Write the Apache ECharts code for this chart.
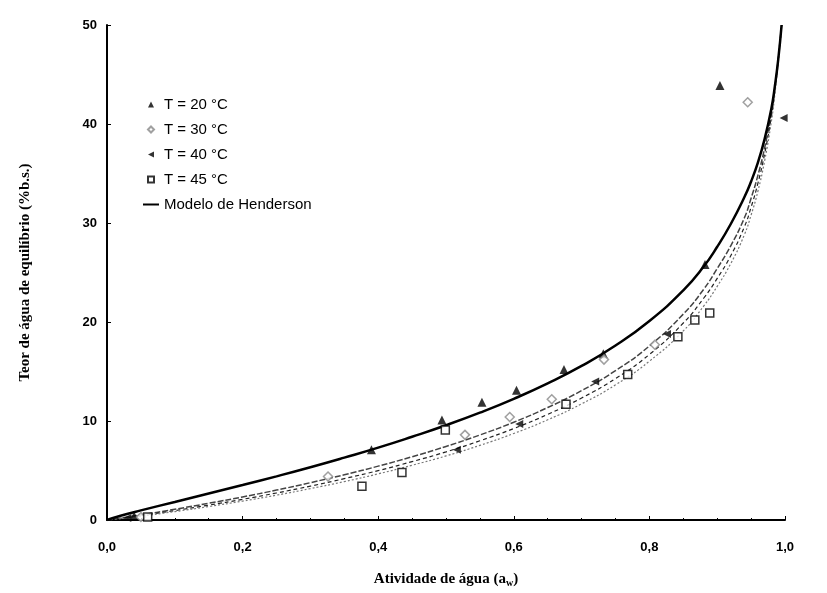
<!DOCTYPE html>
<html>
<head>
<meta charset="utf-8">
<script src="https://cdn.jsdelivr.net/npm/echarts@6/dist/echarts.min.js"></script>
<style>html,body{margin:0;padding:0;background:#fff}#c{width:827px;height:593px}</style>
</head>
<body>
<div id="c"></div>
<script>
// Observed points: water activity (aw) and equilibrium moisture (% d.b.)
var aw20 = [0.04, 0.39, 0.494, 0.553, 0.604, 0.674, 0.732, 0.882, 0.904];
var x20  = [0.4, 7.1, 10.1, 11.9, 13.1, 15.2, 16.8, 25.8, 43.9];
var aw30 = [0.05, 0.326, 0.528, 0.594, 0.656, 0.733, 0.808, 0.945];
var x30  = [0.3, 4.4, 8.6, 10.4, 12.2, 16.2, 17.7, 42.2];
var aw40 = [0.03, 0.516, 0.608, 0.72, 0.826, 0.998];
var x40  = [0.2, 7.1, 9.7, 14.0, 18.8, 40.6];
var aw45 = [0.06, 0.376, 0.435, 0.499, 0.677, 0.768, 0.842, 0.867, 0.889];
var x45  = [0.3, 3.4, 4.8, 9.1, 11.7, 14.7, 18.5, 20.2, 20.9];

// Henderson model curves read along the aw axis
var awCurve = [0, 0.02, 0.05, 0.1, 0.15, 0.2, 0.25, 0.3, 0.35, 0.4, 0.45, 0.5, 0.55, 0.6, 0.65, 0.7, 0.75, 0.8, 0.85, 0.88, 0.9, 0.92, 0.94, 0.95, 0.96, 0.97, 0.98, 0.985, 0.99, 0.995];
var m20 = [0, 0.43, 0.97, 1.82, 2.67, 3.53, 4.41, 5.33, 6.30, 7.31, 8.41, 9.57, 10.84, 12.24, 13.80, 15.56, 17.62, 20.1, 23.2, 25.6, 27.6, 29.9, 32.6, 34.2, 36.1, 38.5, 41.6, 43.8, 46.5, 50.0];
var m30 = [0, 0.20, 0.52, 1.08, 1.69, 2.33, 3.02, 3.77, 4.57, 5.44, 6.39, 7.43, 8.59, 9.88, 11.36, 13.07, 15.09, 17.58, 20.8, 23.3, 25.4, 27.7, 30.5, 32.5, 34.8, 37.6, 41.2, 43.6, 46.6, 50.0];
var m40 = [0, 0.17, 0.44, 0.95, 1.50, 2.09, 2.73, 3.42, 4.18, 4.99, 5.90, 6.88, 8.00, 9.24, 10.67, 12.32, 14.29, 16.72, 19.9, 22.4, 24.4, 26.7, 29.6, 31.6, 34.0, 37.0, 40.8, 43.3, 46.4, 50.0];
var m45 = [0, 0.14, 0.39, 0.85, 1.36, 1.91, 2.51, 3.17, 3.88, 4.66, 5.53, 6.47, 7.54, 8.74, 10.12, 11.73, 13.65, 16.04, 19.1, 21.6, 23.6, 25.9, 28.8, 30.8, 33.2, 36.3, 40.3, 43.0, 46.2, 49.8];

var xTicks = [0, 0.2, 0.4, 0.6, 0.8, 1.0];
var yTicks = [0, 10, 20, 30, 40, 50];

function pairs(a, b) { return a.map(function (v, i) { return [v, b[i]]; }); }

var chart = echarts.init(document.getElementById('c'), null, {renderer: 'canvas'});
var font = 'Liberation Sans';
chart.setOption({
  animation: false,
  backgroundColor: '#fff',
  grid: {left: 107, right: 42, top: 25, bottom: 73},
  legend: {
    left: 138, top: 92, orient: 'vertical', itemGap: 10, itemWidth: 16, itemHeight: 6,
    symbolKeepAspect: true,
    textStyle: {fontFamily: font, fontSize: 15, color: '#000'},
    data: [
      {name: 'T = 20 °C', icon: 'path://M3,0 L6,6 L0,6 Z'},
      {name: 'T = 30 °C', icon: 'path://M3,0 L6,3 L3,6 L0,3 Z'},
      {name: 'T = 40 °C', icon: 'path://M0,3 L6,0 L6,6 Z'},
      {name: 'T = 45 °C', icon: 'path://M0,0 L6,0 L6,6 L0,6 Z'},
      {name: 'Modelo de Henderson', icon: 'path://M0,0 L32,0 L32,4 L0,4 Z'}
    ]
  },
  xAxis: {
    type: 'value', min: xTicks[0], max: xTicks[xTicks.length - 1], interval: 0.2,
    name: '{t|Atividade de água (a}{s|w}{t|)}', nameLocation: 'middle', nameGap: 50,
    nameTextStyle: {rich: {
      t: {fontFamily: 'Liberation Serif', fontWeight: 'bold', fontSize: 15, color: '#000'},
      s: {fontFamily: 'Liberation Serif', fontWeight: 'bold', fontSize: 10, color: '#000', verticalAlign: 'bottom', padding: [8, 0, 0, 0]}
    }},
    axisLine: {lineStyle: {color: '#000', width: 2}},
    axisTick: {inside: true, length: 4, lineStyle: {color: '#000'}},
    minorTick: {show: true, splitNumber: 4, length: 2, lineStyle: {color: '#000'}},
    splitLine: {show: false},
    axisLabel: {margin: 21, fontFamily: font, fontWeight: 'bold', fontSize: 13, color: '#000',
      formatter: function (v) { return v.toFixed(1).replace('.', ','); }}
  },
  yAxis: {
    type: 'value', min: yTicks[0], max: yTicks[yTicks.length - 1], interval: 10,
    name: 'Teor de água de equilíbrio (%b.s.)', nameLocation: 'middle', nameGap: 74,
    nameTextStyle: {fontFamily: 'Liberation Serif', fontWeight: 'bold', fontSize: 15, color: '#000'},
    axisLine: {lineStyle: {color: '#000', width: 2}},
    axisTick: {inside: true, length: 4, lineStyle: {color: '#000'}},
    splitLine: {show: false},
    axisLabel: {margin: 10, fontFamily: font, fontWeight: 'bold', fontSize: 13, color: '#000'}
  },
  series: [
    {type: 'line', name: 'm30', data: pairs(awCurve, m30), showSymbol: false, symbol: 'none', smooth: true,
      lineStyle: {color: '#444', width: 1.5, type: [6, 2]}, z: 2},
    {type: 'line', name: 'm40', data: pairs(awCurve, m40), showSymbol: false, symbol: 'none', smooth: true,
      lineStyle: {color: '#222', width: 1.2, type: [4, 3]}, z: 2},
    {type: 'line', name: 'm45', data: pairs(awCurve, m45), showSymbol: false, symbol: 'none', smooth: true,
      lineStyle: {color: '#777', width: 1.2, type: [2, 2]}, z: 2},
    {type: 'line', name: 'Modelo de Henderson', data: pairs(awCurve, m20), showSymbol: false, symbol: 'none', smooth: true,
      lineStyle: {color: '#000', width: 2.5}, itemStyle: {color: '#000'}, z: 3},
    {type: 'scatter', name: 'T = 20 °C', data: pairs(aw20, x20), symbol: 'triangle', symbolSize: 9,
      itemStyle: {color: '#000'}, z: 5},
    {type: 'scatter', name: 'T = 30 °C', data: pairs(aw30, x30), symbol: 'diamond', symbolSize: 9,
      itemStyle: {color: '#fff', borderColor: '#888', borderWidth: 1.5}, z: 5},
    {type: 'scatter', name: 'T = 40 °C', data: pairs(aw40, x40), symbol: 'triangle', symbolRotate: 90, symbolSize: 8,
      itemStyle: {color: '#000'}, z: 5},
    {type: 'scatter', name: 'T = 45 °C', data: pairs(aw45, x45), symbol: 'rect', symbolSize: 8,
      itemStyle: {color: '#fff', borderColor: '#000', borderWidth: 1.5}, z: 5}
  ]
});
</script>
</body>
</html>
